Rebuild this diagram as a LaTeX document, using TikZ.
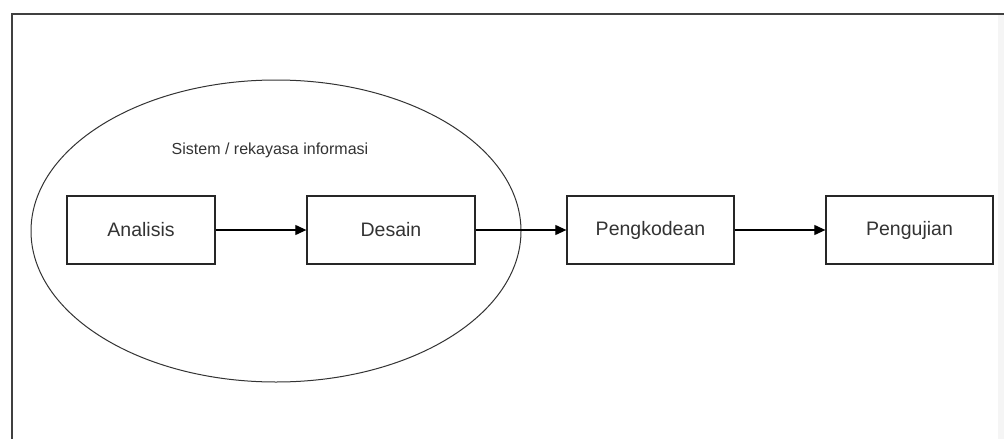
\documentclass[tikz,border=0pt]{standalone}
\usepackage{fontspec}
\setmainfont{Liberation Sans}
\usetikzlibrary{arrows.meta,shapes.geometric}
\begin{document}
\begin{tikzpicture}[x=1pt,y=-1pt,
  stagebox/.style={draw=black!85,line width=1.3pt,minimum width=#1pt,minimum height=68pt,inner sep=0pt,
    font=\fontsize{19.5}{22}\selectfont,text=black!80},
  flow/.style={draw=black,line width=1.1pt,-{Triangle[length=11pt,width=10pt]}}]
\useasboundingbox (0,0) rectangle (1004,439);
\fill[white] (0,0) rectangle (1004,439);
\fill[black!4] (998,15) rectangle (1004,439);
\draw[black!75,line width=2pt] (12,439) -- (12,14) -- (1004,14);
\node[draw=black!80,line width=1pt,ellipse,minimum width=490pt,minimum height=302pt,inner sep=0pt] (ell) at (276,231) {};
\node[font=\fontsize{16}{19}\selectfont,text=black!80] (lbl) at (270,150) {Sistem / rekayasa informasi};
\node[stagebox=148] (ana) at (141,230) {Analisis};
\node[stagebox=168] (des) at (391,230) {Desain};
\node[stagebox=167] (kod) at (650.5,230) {Pengkodean};
\node[stagebox=167] (uji) at (909.5,230) {Pengujian};
\draw[flow] (ana) -- (des);
\draw[flow] (des) -- (kod);
\draw[flow] (kod) -- (uji);
\end{tikzpicture}
\end{document}
